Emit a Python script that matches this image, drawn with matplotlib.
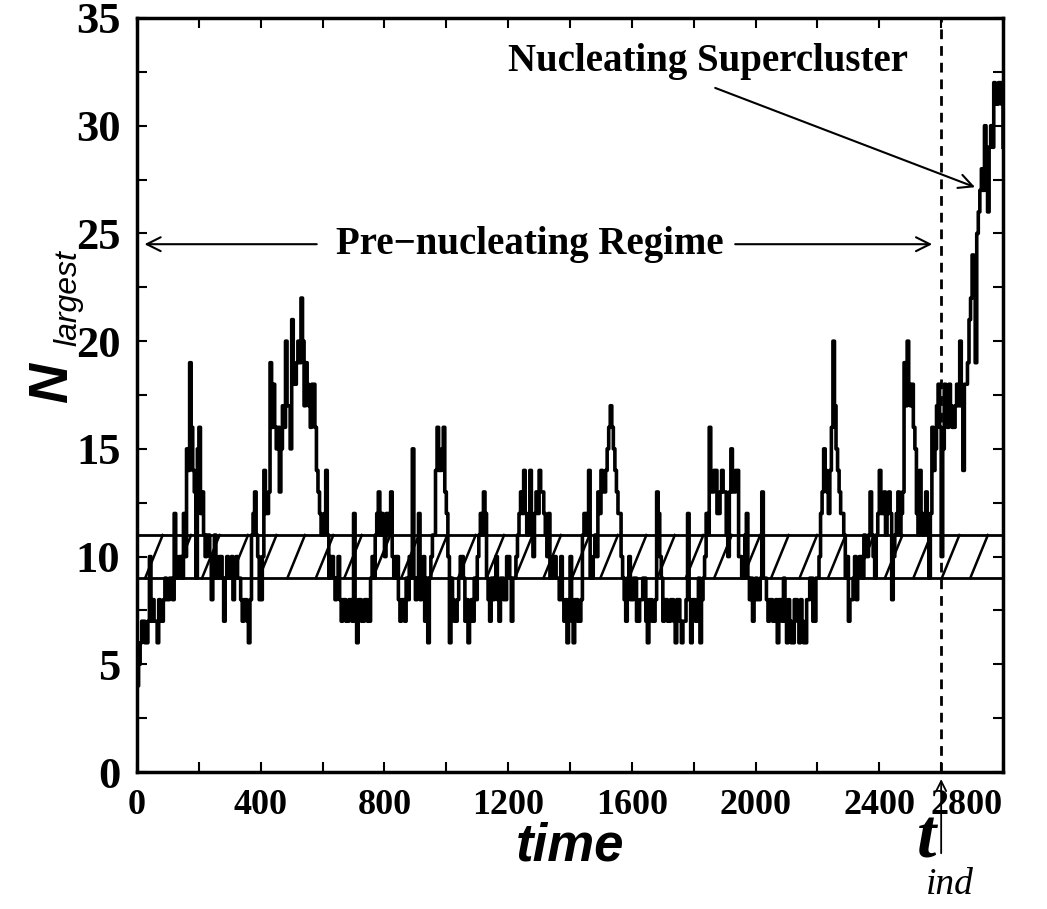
import numpy as np
import matplotlib
matplotlib.use("Agg")
import matplotlib.pyplot as plt
from matplotlib.ticker import MultipleLocator

n_largest = [
    4, 5, 6, 7, 7, 6, 6, 7, 10, 7, 8, 7, 7, 6, 8, 7, 7, 8, 9, 8,                 # 0
    8, 9, 9, 8, 12, 9, 9, 10, 10, 9, 12, 10, 15, 14, 19, 16, 14, 13, 9, 15,      # 100
    16, 12, 13, 11, 10, 11, 11, 10, 8, 10, 11, 9, 9, 10, 10, 9, 7, 9, 10, 9,     # 200
    9, 10, 8, 9, 10, 9, 9, 8, 7, 8, 8, 7, 6, 8, 11, 12, 13, 11, 10, 8,           # 300
    8, 10, 14, 12, 12, 13, 19, 16, 18, 16, 15, 16, 13, 15, 17, 16, 20, 17, 17, 15,   # 400
    21, 18, 18, 19, 20, 19, 22, 20, 17, 19, 18, 17, 16, 18, 18, 16, 14, 13, 12, 11,  # 500
    11, 12, 14, 11, 9, 10, 10, 9, 8, 9, 10, 8, 7, 8, 8, 7, 7, 8, 8, 7,           # 600
    12, 7, 6, 8, 8, 7, 7, 8, 8, 7, 7, 9, 10, 9, 11, 12, 13, 11, 12, 11,          # 700
    10, 12, 12, 11, 13, 10, 9, 10, 10, 8, 7, 8, 8, 7, 9, 8, 10, 9, 15, 9,        # 800
    8, 9, 12, 8, 9, 10, 7, 9, 6, 9, 10, 11, 11, 14, 16, 14, 14, 15, 16, 13,      # 900
    12, 10, 6, 9, 8, 7, 7, 8, 9, 10, 10, 9, 7, 8, 6, 7, 8, 7, 9, 8,              # 1000
    10, 11, 12, 11, 13, 12, 9, 8, 7, 9, 8, 9, 10, 8, 7, 9, 9, 8, 8, 10,          # 1100
    10, 9, 7, 9, 9, 10, 11, 12, 13, 12, 14, 12, 11, 12, 14, 11, 10, 12, 13, 12,  # 1200
    14, 13, 13, 12, 11, 10, 12, 9, 9, 10, 10, 9, 9, 8, 10, 8, 7, 8, 6, 8,        # 1300
    10, 7, 6, 8, 8, 7, 7, 8, 11, 12, 12, 11, 14, 9, 9, 10, 11, 10, 13, 12,       # 1400
    14, 13, 13, 14, 15, 16, 17, 16, 15, 14, 13, 12, 12, 10, 9, 8, 7, 9, 10, 8,   # 1500
    8, 9, 9, 7, 7, 8, 8, 9, 9, 7, 6, 8, 8, 7, 7, 8, 13, 12, 10, 9,               # 1600
    7, 8, 8, 7, 7, 8, 8, 7, 6, 8, 8, 7, 6, 7, 7, 8, 12, 8, 6, 8,                 # 1700
    8, 7, 7, 9, 6, 8, 9, 10, 12, 11, 16, 13, 13, 14, 14, 12, 12, 13, 14, 13,     # 1800
    13, 11, 10, 13, 15, 13, 13, 14, 14, 10, 10, 9, 9, 11, 12, 9, 8, 9, 7, 8,     # 1900
    9, 8, 8, 9, 13, 9, 9, 8, 7, 8, 8, 7, 7, 8, 6, 8, 8, 7, 9, 7,                 # 2000
    6, 8, 7, 6, 6, 8, 8, 7, 6, 8, 7, 6, 6, 8, 8, 9, 9, 7, 7, 9,                  # 2100
    9, 10, 12, 13, 15, 14, 13, 12, 14, 16, 20, 17, 15, 14, 13, 12, 12, 11, 9, 10,    # 2200
    7, 8, 8, 9, 10, 8, 9, 10, 10, 9, 11, 10, 10, 11, 13, 11, 10, 9, 11, 12,      # 2300
    14, 12, 12, 13, 11, 12, 13, 12, 8, 10, 11, 12, 13, 11, 12, 13, 19, 17, 20, 18,   # 2400
    17, 18, 16, 15, 12, 11, 14, 12, 11, 12, 13, 11, 9, 12, 16, 14, 15, 17, 18, 16,   # 2500
    10, 15, 18, 17, 16, 18, 17, 16, 16, 17, 18, 17, 20, 17, 14, 18, 18, 19, 21, 22,  # 2600
    24, 23, 19, 25, 26, 27, 28, 27, 30, 29, 26, 29, 30, 29, 32, 31, 31, 32, 32, 31,  # 2700
    29,                                                                          # 2800
]
time = np.arange(len(n_largest)) * 5

x_ticks = [0, 400, 800, 1200, 1600, 2000, 2400, 2800]
y_ticks = [0, 5, 10, 15, 20, 25, 30, 35]
band_low, band_high = 9, 11
t_ind = 2600

fig = plt.figure(figsize=(10.47, 9.09), dpi=100)
ax = fig.add_axes([0.1309, 0.1507, 0.8271, 0.8295])

# hatched band between 9 and 11
ax.axhline(band_low, color="black", lw=2)
ax.axhline(band_high, color="black", lw=2)
for x0 in np.arange(26, 2720, 92):
    ax.plot([x0, x0 + 57], [band_low, band_high], color="black", lw=1.8)

ax.plot(time, n_largest, color="black", lw=2.6, drawstyle="steps-post")

ax.axvline(t_ind, color="black", lw=2, linestyle=(0, (3.5, 2.5)))

ax.set_xlim(0, 2800)
ax.set_ylim(0, 35)
ax.set_xticks(x_ticks)
ax.set_yticks(y_ticks)
ax.xaxis.set_minor_locator(MultipleLocator(200))
ax.yaxis.set_minor_locator(MultipleLocator(2.5))
ax.tick_params(which="both", direction="in", top=True, right=True, width=1.5,
               length=7)
ax.tick_params(axis="x", pad=12)
ax.tick_params(axis="y", pad=12)
for sp in ax.spines.values():
    sp.set_linewidth(2.5)

xlabels = ax.get_xticklabels()
for lab in xlabels:
    lab.set_fontfamily("Liberation Serif")
    lab.set_fontweight("bold")
    lab.set_fontsize(26)
xlabels[-1].set_horizontalalignment("right")
for lab in ax.get_yticklabels():
    lab.set_fontfamily("Liberation Serif")
    lab.set_fontweight("bold")
    lab.set_fontsize(32)

ax.set_xlabel("time", family="Liberation Sans", weight="bold", style="italic",
              fontsize=38, labelpad=0)

# y label: N with subscript
fig.text(53 / 1047, 1 - 383 / 909, "N", family="Liberation Sans", weight="bold",
         style="italic", fontsize=40, rotation=90, ha="center", va="center")
fig.text(68 / 1047, 1 - 298 / 909, "largest", family="Liberation Sans",
         style="italic", fontsize=23, rotation=90, ha="center", va="center")

# t_ind label with arrow pointing at the axis
fig.text(927 / 1047, 1 - 840 / 909, "t", family="Liberation Serif", weight="bold",
         style="italic", fontsize=50, ha="center", va="center")
fig.text(950 / 1047, 1 - 885 / 909, "ind", family="Liberation Serif",
         style="italic", fontsize=27, ha="center", va="center")
ax.annotate("", xy=(t_ind, -0.2), xytext=(t_ind, -3.9), annotation_clip=False,
            arrowprops=dict(arrowstyle="->", color="black", lw=1.3,
                            mutation_scale=18))

# annotations
ax.text(1270, 24.5, "Pre\u2212nucleating Regime", family="Liberation Serif",
        weight="bold", fontsize=28, ha="center", va="center")
ax.annotate("", xy=(15, 24.5), xytext=(590, 24.5),
            arrowprops=dict(arrowstyle="->", color="black", lw=1.5,
                            mutation_scale=25))
ax.annotate("", xy=(2580, 24.5), xytext=(1925, 24.5),
            arrowprops=dict(arrowstyle="->", color="black", lw=1.5,
                            mutation_scale=25))

ax.text(1845, 33.0, "Nucleating Supercluster", family="Liberation Serif",
        weight="bold", fontsize=28, ha="center", va="center")
ax.annotate("", xy=(2718, 27.1), xytext=(1861, 31.8),
            arrowprops=dict(arrowstyle="->", color="black", lw=1.5,
                            mutation_scale=25))

fig.savefig("out.png", dpi=100)
